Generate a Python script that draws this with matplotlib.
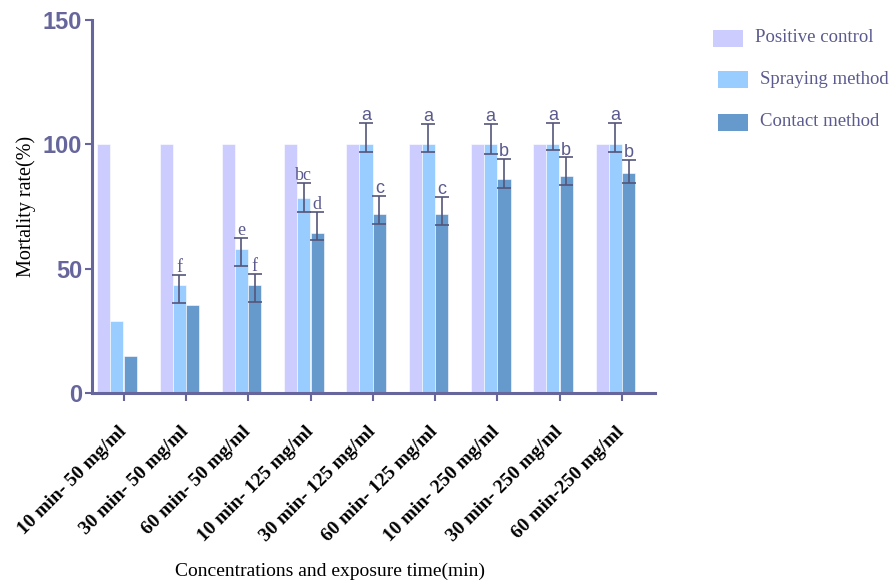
import matplotlib.pyplot as plt
import matplotlib.transforms as mtrans
import numpy as np
from matplotlib.patches import Rectangle

# data
groups = ['10 min- 50 mg/ml', '30 min- 50 mg/ml', '60 min- 50 mg/ml',
          '10 min- 125 mg/ml', '30 min- 125 mg/ml', '60 min- 125 mg/ml',
          '10 min- 250 mg/ml', '30 min- 250 mg/ml', '60 min-250 mg/ml']
series = ['Positive control', 'Spraying method', 'Contact method']

positive = [100, 100, 100, 100, 100, 100, 100, 100, 100]
spraying = [29, 43.5, 58, 78.5, 100, 100, 100, 100, 100]
contact = [15, 35.5, 43.5, 64.5, 72, 72, 86, 87.3, 88.3]

# error bars (lower, upper); 0 = no bar drawn
spray_lo = [0, 7.5, 7, 5.6, 3, 3, 3.8, 2.2, 3.2]
spray_hi = [0, 4, 4.3, 6, 8.6, 8.3, 8.2, 8.7, 8.5]
contact_lo = [0, 0, 6.8, 3, 4, 4.5, 3.6, 3.7, 3.7]
contact_hi = [0, 0, 4.5, 8.4, 7.3, 7, 8, 7.5, 5.5]

spray_letters = ['', 'f', 'e', 'bc', 'a', 'a', 'a', 'a', 'a']
contact_letters = ['', '', 'f', 'd', 'c', 'c', 'b', 'b', 'b']

colors = ['#CCCCFF', '#99CCFF', '#6699CC']
axcol = '#66669C'
txtcol = '#5A5A8E'

fig = plt.figure(figsize=(8.95, 5.83), dpi=100)
ax = fig.add_axes([92 / 895, 1 - 393 / 583, 563 / 895, 373 / 583])

x = np.arange(len(groups))
w = 0.21
offs = [-0.32, -0.11, 0.105]

ax.bar(x + offs[0], positive, w, color=colors[0], edgecolor='white', linewidth=0.4, zorder=2)
ax.bar(x + offs[1], spraying, w, color=colors[1], edgecolor='white', linewidth=0.4, zorder=2)
ax.bar(x + offs[2], contact, w, color=colors[2], edgecolor='white', linewidth=0.4, zorder=2)

ek = dict(fmt='none', ecolor='#55557A', elinewidth=1.2, capsize=5, capthick=1.2, zorder=3)
m = np.array(spray_hi) > 0
ax.errorbar((x + offs[1])[m], np.array(spraying)[m],
            yerr=[np.array(spray_lo)[m], np.array(spray_hi)[m]], **ek)
m = np.array(contact_hi) > 0
ax.errorbar((x + offs[2])[m], np.array(contact)[m],
            yerr=[np.array(contact_lo)[m], np.array(contact_hi)[m]], **ek)

# significance letters
for i in range(len(groups)):
    fam = 'Liberation Sans' if i >= 4 else 'Liberation Serif'
    if spray_letters[i]:
        ax.text(x[i] + offs[1], spraying[i] + spray_hi[i] - 0.5, spray_letters[i],
                ha='center', va='bottom', fontsize=13, color=txtcol, family=fam)
    if contact_letters[i]:
        ax.text(x[i] + offs[2], contact[i] + contact_hi[i] - 0.5, contact_letters[i],
                ha='center', va='bottom', fontsize=13, color=txtcol, family=fam)

ax.set_xlim(-0.51, 8.53)
ax.set_ylim(0, 150)
ax.set_yticks([0, 50, 100, 150])
ax.set_xticks(x)
ax.set_xticklabels(groups, rotation=45, ha='right', va='center', rotation_mode='anchor',
                   family='Liberation Serif', fontweight='bold', fontsize=14)
shift = mtrans.ScaledTranslation(-6 / 100, 4 / 100, fig.dpi_scale_trans)
for lab in ax.get_xticklabels():
    lab.set_transform(lab.get_transform() + shift)
for lab in ax.get_yticklabels():
    lab.set_family('Liberation Sans')
    lab.set_fontweight('bold')
    lab.set_fontsize(17)
    lab.set_color(axcol)

for s in ['top', 'right']:
    ax.spines[s].set_visible(False)
for s in ['left', 'bottom']:
    ax.spines[s].set_color(axcol)
    ax.spines[s].set_linewidth(2.2)
ax.tick_params(axis='y', length=5, width=1.5, color=axcol, pad=2)
ax.tick_params(axis='x', length=6, width=1.5, color=axcol, pad=20)

ax.set_ylabel('Mortality rate(%)', family='Liberation Serif', fontsize=14.5, labelpad=5)
fig.text(330 / 895, 1 - 571 / 583, 'Concentrations and exposure time(min)',
         family='Liberation Serif', fontsize=14, ha='center', va='center')

# legend drawn by hand to match the original spacing
leg_x = [713, 718, 718]
leg_y = [38, 79, 122]
for c, name, lx, ly in zip(colors, series, leg_x, leg_y):
    fig.patches.append(Rectangle((lx / 895, 1 - (ly + 8.5) / 583), 30 / 895, 17 / 583,
                                 transform=fig.transFigure, facecolor=c, edgecolor='none'))
    fig.text((lx + 42) / 895, 1 - ly / 583, name, family='Liberation Serif',
             fontsize=13.5, color=txtcol, ha='left', va='center')

fig.savefig('out.png', dpi=100)
